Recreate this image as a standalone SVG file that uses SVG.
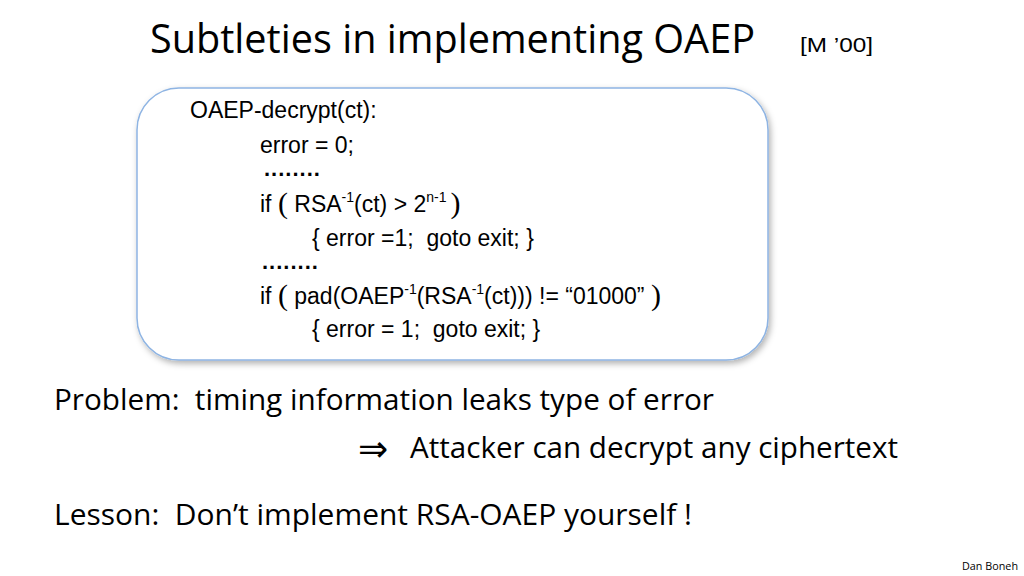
<svg xmlns="http://www.w3.org/2000/svg" width="1024" height="576" viewBox="0 0 1024 576">
<style>
text{white-space:pre}
.t{font-family:"Open Sans","Liberation Sans",sans-serif;fill:#000}
.c{font-family:"Liberation Sans",Arial,sans-serif;font-size:23px;fill:#000}
.d{font-family:"Liberation Sans",sans-serif;font-size:22px;font-weight:bold}
</style>
<defs><filter id="sh" x="-5%" y="-5%" width="115%" height="115%"><feDropShadow dx="2" dy="3" stdDeviation="3" flood-color="#000" flood-opacity="0.3"/></filter></defs>
<rect width="1024" height="576" fill="#fff"/>
<text class="t" x="150" y="53" font-size="40" textLength="605" lengthAdjust="spacingAndGlyphs">Subtleties in implementing OAEP</text>
<text class="c" x="800" y="52" style="font-size:20px" textLength="73" lengthAdjust="spacingAndGlyphs">[M ’00]</text>
<g id="box">
<rect x="137" y="88" width="631" height="272" rx="42" fill="#fff" stroke="#8eb4e3" stroke-width="1.5" filter="url(#sh)"/>
<text class="c" x="190" y="118">OAEP-decrypt(ct):</text>
<text class="c" x="260" y="153">error = 0;</text>
<text class="d" x="264" y="176" letter-spacing="1">........</text>
<text class="c" x="260" y="212">if <tspan style="font-family:'Liberation Serif',serif;font-size:30px" dy="1">(</tspan><tspan dy="-1"> RSA</tspan><tspan style="font-size:14px" dy="-10">-1</tspan><tspan dy="10">(ct) &gt; 2</tspan><tspan style="font-size:14px" dy="-10">n-1</tspan><tspan style="font-family:'Liberation Serif',serif;font-size:30px" dx="4" dy="11">)</tspan></text>
<text class="c" x="312" y="246">{ error =1;  goto exit; }</text>
<text class="d" x="262" y="269" letter-spacing="1">........</text>
<text class="c" x="260" y="304">if <tspan style="font-family:'Liberation Serif',serif;font-size:30px" dy="1">(</tspan><tspan dy="-1"> pad(OAEP</tspan><tspan style="font-size:14px" dy="-10">-1</tspan><tspan dy="10">(RSA</tspan><tspan style="font-size:14px" dy="-10">-1</tspan><tspan dy="10">(ct))) != “01000” </tspan><tspan style="font-family:'Liberation Serif',serif;font-size:30px" dy="1">)</tspan></text>
<text class="c" x="312" y="337">{ error = 1;  goto exit; }</text>
</g>
<text class="t" x="54" y="410" font-size="30" textLength="660" lengthAdjust="spacingAndGlyphs">Problem:  timing information leaks type of error</text>
<text x="358" y="461" font-size="36" font-family="DejaVu Sans" fill="#000">⇒</text>
<text class="t" x="410" y="458" font-size="30" textLength="488" lengthAdjust="spacingAndGlyphs">Attacker can decrypt any ciphertext</text>
<text class="t" x="54" y="525" font-size="30" textLength="638" lengthAdjust="spacingAndGlyphs">Lesson:  Don’t implement RSA-OAEP yourself !</text>
<text class="t" x="962" y="570" font-size="11" textLength="56" lengthAdjust="spacingAndGlyphs">Dan Boneh</text>
</svg>
